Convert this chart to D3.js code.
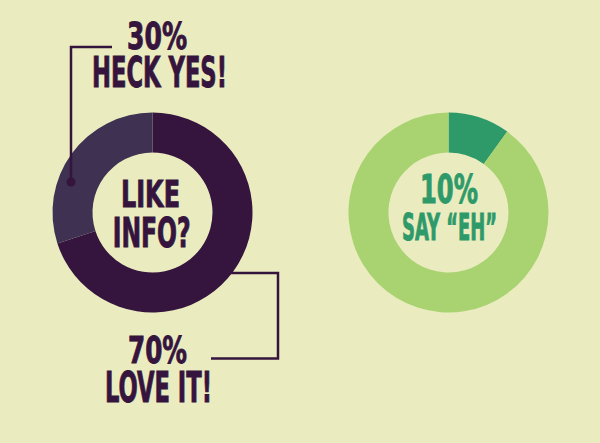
<!DOCTYPE html>
<html><head><meta charset="utf-8">
<script src="https://cdn.jsdelivr.net/npm/d3@7"></script>
<style>
html,body{margin:0;padding:0;background:#eaecbf;}
svg{display:block;}
text{font-family:"DejaVu Sans Condensed","Liberation Sans Narrow","Liberation Sans",sans-serif;font-weight:bold;text-anchor:middle;}
</style></head>
<body>
<script>
// Data
const leftCategories = ["Love it!", "Heck yes!"];
const leftValues = [70, 30];
const rightCategories = ["Other", "Say \u201cEh\u201d"];
const rightValues = [90, 10];
const leftLabels = ["30%", "HECK YES!", "70%", "LOVE IT!"];
const leftCenterLabels = ["LIKE", "INFO?"];
const rightCenterLabels = ["10%", "SAY \u201cEH\u201d"];

const W = 600, H = 443;
const svg = d3.select("body").append("svg").attr("width", W).attr("height", H);
svg.append("rect").attr("width", W).attr("height", H).attr("fill", "#eaecbf");

const purple = "#35143d", purpleLight = "#3e3152";
const greenDark = "#2f9a69", greenLight = "#a9d271";

const arc = d3.arc().innerRadius(60).outerRadius(100);

// Left donut: 70 clockwise from top, then 30
const pieL = d3.pie().sort(null).value(d => d);
const gL = svg.append("g").attr("transform", "translate(152.5,212.5)");
gL.selectAll("path").data(pieL(leftValues)).join("path")
  .attr("d", arc)
  .attr("fill", (d, i) => i === 0 ? purple : purpleLight);

// Right donut: 10 from top clockwise (dark), then 90
const pieR = d3.pie().sort(null).value(d => d);
const gR = svg.append("g").attr("transform", "translate(448.5,212.5)");
gR.selectAll("path").data(pieR([rightValues[1], rightValues[0]])).join("path")
  .attr("d", arc)
  .attr("fill", (d, i) => i === 0 ? greenDark : greenLight);

// Leader lines
svg.append("path")
  .attr("d", "M112,47 H71 V182")
  .attr("fill", "none").attr("stroke", purple).attr("stroke-width", 2.5);
svg.append("circle").attr("cx", 71).attr("cy", 182).attr("r", 4.5).attr("fill", purple);
svg.append("path")
  .attr("d", "M230,273 H278 V358.5 H211")
  .attr("fill", "none").attr("stroke", purple).attr("stroke-width", 2.5);

function label(txt, cx, base, fs, w, color) {
  svg.append("text")
    .attr("x", cx).attr("y", base)
    .attr("font-size", fs)
    .attr("fill", color)
    .attr("stroke", color)
    .attr("stroke-width", 0.9)
    .attr("textLength", w)
    .attr("lengthAdjust", "spacingAndGlyphs")
    .text(txt);
}

label(leftLabels[0], 157, 49, 38, 60, purple);
label(leftLabels[1], 159.5, 87, 42, 135, purple);
label(leftLabels[2], 157.5, 363, 38, 59, purple);
label(leftLabels[3], 158.5, 402, 42, 107, purple);
label(leftCenterLabels[0], 150.5, 207, 38, 59, purple);
label(leftCenterLabels[1], 151.7, 247, 40, 78, purple);
label(rightCenterLabels[0], 449, 203, 39, 58, greenDark);
label(rightCenterLabels[1], 449.5, 240, 37, 95, greenDark);
</script>
</body></html>
